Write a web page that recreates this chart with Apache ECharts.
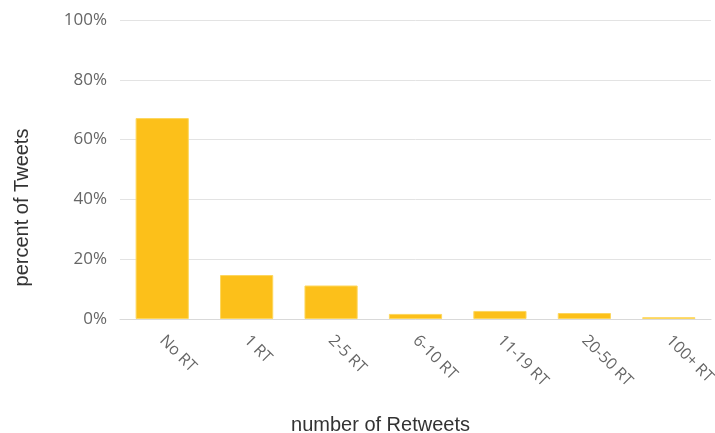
<!DOCTYPE html>
<html>
<head>
<meta charset="utf-8">
<script src="https://cdn.jsdelivr.net/npm/echarts@6/dist/echarts.min.js"></script>
<style>html,body{margin:0;padding:0;background:#fff}#c{width:715px;height:433px}</style>
</head>
<body>
<div id="c"></div>
<script>
var categories = ['No RT', '1 RT', '2-5 RT', '6-10 RT', '11-19 RT', '20-50 RT', '100+ RT'];
var values = [67.2, 14.7, 11.2, 1.7, 2.7, 2.0, 0.6];
var yTicks = [0, 20, 40, 60, 80, 100];

var chart = echarts.init(document.getElementById('c'), null, {renderer: 'canvas'});
var font = 'Open Sans, Liberation Sans, Arial, sans-serif';
var nameFont = 'Liberation Sans, Arial, sans-serif';
chart.setOption({
  animation: false,
  grid: {left: 120, right: 4, top: 20, bottom: 114, outerBoundsMode: 'none', containLabel: false},
  xAxis: {
    type: 'category',
    data: categories,
    name: 'number of Retweets',
    nameLocation: 'middle',
    nameGap: 96,
    nameTextStyle: {color: '#333', fontSize: 20, fontFamily: nameFont, padding: [0, 70, 0, 0]},
    axisLine: {show: true, lineStyle: {color: '#d9d9d9', width: 1}},
    axisTick: {show: false},
    axisLabel: {rotate: -45, color: '#666', fontSize: 16, fontFamily: font, margin: 19, interval: 0}
  },
  yAxis: {
    type: 'value',
    min: 0, max: 100, interval: 20,
    name: 'percent of Tweets',
    nameLocation: 'middle',
    nameGap: 88,
    nameTextStyle: {color: '#333', fontSize: 20, fontFamily: nameFont, padding: [0, 76, 0, 0]},
    axisLine: {show: false},
    axisTick: {show: false},
    splitLine: {lineStyle: {color: '#e3e3e3', width: 1}},
    axisLabel: {color: '#666', fontSize: 17, fontFamily: font, margin: 13,
      formatter: function (v) { return yTicks.indexOf(v) >= 0 ? v + '%' : ''; }}
  },
  series: [{
    type: 'bar',
    data: values,
    barCategoryGap: '37%',
    itemStyle: {color: '#FCC01A', borderColor: '#FDD75E', borderWidth: 1}
  }]
});
</script>
</body>
</html>
